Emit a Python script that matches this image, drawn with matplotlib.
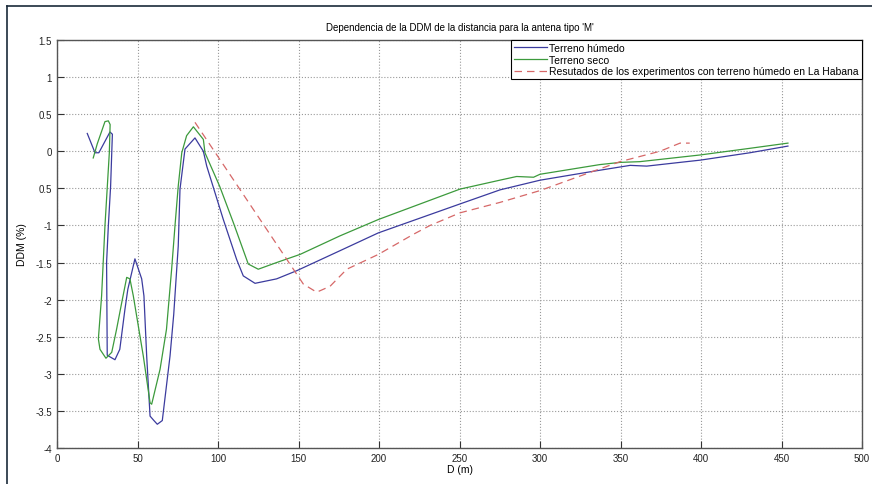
import matplotlib
matplotlib.use('Agg')
import matplotlib.pyplot as plt
from matplotlib.lines import Line2D
import numpy as np

plt.rcParams['font.family'] = ['Liberation Sans', 'DejaVu Sans']
plt.rcParams['font.size'] = 7

# Terreno humedo (blue)
d_humedo = [18.8, 23.6, 26.0, 32.9, 34.4, 33.3, 31.9, 30.8, 31.2, 36.0, 39.0, 42.2, 44.0,
            48.4, 52.6, 54.0, 55.7, 57.8, 60.2, 62.3, 65.4, 70.2, 72.5, 75.3, 76.4, 79.5,
            85.7, 90.9, 93.0, 103.3, 111.6, 115.7, 123.0, 136.4, 148.9, 175.8, 199.6,
            250.3, 275.2, 300.0, 333.0, 356.0, 366.3, 391.0, 399.4, 430.4, 454.0]
ddm_humedo = [0.24, -0.02, -0.02, 0.26, 0.23, -0.47, -1.0, -1.5, -2.75, -2.81, -2.67, -2.13, -1.86,
              -1.45, -1.72, -1.95, -2.76, -3.57, -3.63, -3.68, -3.63, -2.76, -2.2, -1.28, -0.51, 0.03,
              0.18, 0.0, -0.2, -0.92, -1.46, -1.68, -1.78, -1.72, -1.61, -1.34, -1.1,
              -0.71, -0.52, -0.39, -0.27, -0.19, -0.2, -0.14, -0.12, -0.02, 0.07]

# Terreno seco (green)
d_seco = [22.5, 25.0, 29.8, 31.9, 33.0, 32.5, 29.8, 27.7, 25.7, 26.7, 30.4, 34.0, 37.0, 40.2,
          43.3, 45.3, 47.4, 53.6, 57.8, 58.8, 64.0, 68.0, 71.2, 73.3, 75.3, 77.5, 80.5, 84.7,
          90.9, 91.9, 101.0, 109.5, 118.8, 125.0, 136.4, 151.0, 175.8, 199.6, 250.3, 275.0,
          285.5, 296.0, 300.0, 337.0, 349.7, 362.0, 399.4, 430.4, 454.0]
ddm_seco = [-0.09, 0.1, 0.40, 0.41, 0.36, -0.02, -1.0, -1.95, -2.53, -2.67, -2.79, -2.71, -2.4, -2.04,
            -1.70, -1.72, -1.95, -2.76, -3.39, -3.41, -2.94, -2.4, -1.59, -1.0, -0.47, -0.02, 0.21, 0.33,
            0.16, -0.02, -0.47, -0.96, -1.52, -1.59, -1.5, -1.39, -1.14, -0.92, -0.51, -0.39,
            -0.34, -0.35, -0.31, -0.18, -0.15, -0.14, -0.05, 0.04, 0.11]

# Resultados experimentales (red dashed)
d_exp = [85.7, 153.0, 161.3, 169.6, 180.0, 199.6, 221.3, 231.7, 250.3, 275.0, 300.0,
         333.0, 349.7, 374.5, 387.0, 393.0]
ddm_exp = [0.39, -1.79, -1.90, -1.82, -1.59, -1.39, -1.12, -1.0, -0.83, -0.69, -0.53,
           -0.27, -0.14, 0.0, 0.11, 0.11]

yticks = [-4, -3.5, -3, -2.5, -2, -1.5, -1, -0.5, 0, 0.5, 1, 1.5]
ytick_labels = ['-4', '-3.5', '-3', '-2.5', '-2', '-1.5', '-1', '0.5', '0', '0.5', '1', '1.5']
xticks = [0, 50, 100, 150, 200, 250, 300, 350, 400, 450, 500]

fig = plt.figure(figsize=(8.72, 4.85), dpi=100)
ax = fig.add_axes([57 / 872, 1 - 449 / 485, 805 / 872, 408 / 485])

ax.plot(d_humedo, ddm_humedo, color='#3b3b9e', lw=0.9, label='Terreno húmedo')
ax.plot(d_seco, ddm_seco, color='#3c9a3c', lw=0.9, label='Terreno seco')
ax.plot(d_exp, ddm_exp, color='#d66868', lw=0.9, ls=(0, (6, 4)),
        label='Resutados de los experimentos con terreno húmedo en La Habana')

ax.set_xlim(0, 500)
ax.set_ylim(-4, 1.5)
ax.set_xticks(xticks)
ax.set_yticks(yticks)
ax.set_yticklabels(ytick_labels)
ax.grid(True, ls=':', color='#999999', lw=0.8)
ax.tick_params(direction='in', length=5, colors='#333333', labelcolor='#222222', labelsize=7)
for s in ax.spines.values():
    s.set_color('#555555')
    s.set_linewidth(1.0)

ax.set_title("Dependencia de la DDM de la distancia para la antena tipo 'M'", fontsize=7, pad=7)
ax.set_xlabel('D (m)', fontsize=7.5, labelpad=1)
ax.set_ylabel('DDM (%)', fontsize=7.5, labelpad=6)

leg = ax.legend(loc='upper right', borderaxespad=0, fontsize=7.5, handlelength=3.2,
                fancybox=False, framealpha=1, edgecolor='black', borderpad=0.3,
                labelspacing=0.15, handletextpad=0.2)
leg.get_frame().set_linewidth(0.8)

# screenshot frame: top and left edges
fig.lines.append(Line2D([7 / 872, 1], [1 - 7 / 485, 1 - 7 / 485], transform=fig.transFigure,
                        color='#1a2a3a', lw=1.2))
fig.lines.append(Line2D([7 / 872, 7 / 872], [0, 1 - 7 / 485], transform=fig.transFigure,
                        color='#1a2a3a', lw=1.2))

fig.savefig('out.png', dpi=100)
